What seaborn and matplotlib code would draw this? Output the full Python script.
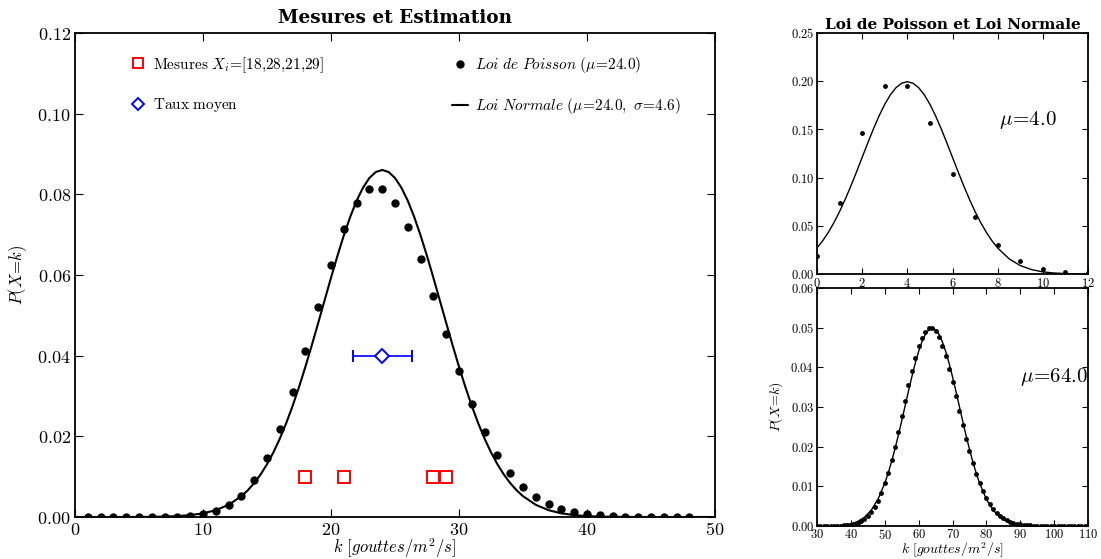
import matplotlib
matplotlib.use("Agg")
import matplotlib.pyplot as plt
from matplotlib.lines import Line2D
from matplotlib.ticker import FuncFormatter
import seaborn as sns

# ---------------- data ----------------
# main panel: Poisson (mu=24) points
k_main = list(range(1, 49))
p_main = [0.0000, 0.0000, 0.0000, 0.0000, 0.0000, 0.0000, 0.0000, 0.0001, 0.0003,
          0.0007, 0.0014, 0.0029, 0.0053, 0.0091, 0.0146, 0.0219, 0.0309, 0.0412,
          0.0520, 0.0624, 0.0713, 0.0778, 0.0812, 0.0812, 0.0779, 0.0719, 0.0639,
          0.0548, 0.0454, 0.0363, 0.0281, 0.0211, 0.0153, 0.0108, 0.0074, 0.0049,
          0.0032, 0.0020, 0.0012, 0.0007, 0.0004, 0.0003, 0.0001, 0.0001, 0.0000,
          0.0000, 0.0000, 0.0000]
# main panel: normal curve (mu=24, sigma=4.6)
x_norm_main = [0, 1, 2, 3, 4, 5, 6, 7, 8, 9, 10, 11, 12, 13,
               13.5, 14, 14.5, 15, 15.5, 16, 16.5, 17, 17.5, 18, 18.5, 19, 19.5,
               20, 20.5, 21, 21.5, 22, 22.5, 23, 23.5, 24, 24.5, 25, 25.5, 26,
               26.5, 27, 27.5, 28, 28.5, 29, 29.5, 30, 30.5, 31, 31.5, 32, 32.5,
               33, 33.5, 34, 34.5,
               35, 36, 37, 38, 39, 40, 41, 42, 43, 44, 45, 46, 47, 48, 49, 50]
y_norm_main = [0.0, 0.0, 0.0, 0.0, 0.0000078, 0.0000194, 0.000046, 0.000104, 0.000223,
               0.000459, 0.000902, 0.00169, 0.00302, 0.00516,
               0.006625, 0.00841, 0.01055, 0.01308, 0.01603, 0.01942, 0.02326,
               0.02753, 0.03221, 0.03725, 0.04258, 0.04811, 0.05372, 0.05931,
               0.06471, 0.06980, 0.07440, 0.07840, 0.08165, 0.08406, 0.08554,
               0.08604, 0.08554, 0.08406, 0.08165, 0.07840, 0.07440, 0.06980,
               0.06471, 0.05931, 0.05372, 0.04811, 0.04258, 0.03725, 0.03221,
               0.02753, 0.02326, 0.01942, 0.01603, 0.01308, 0.01055, 0.00841,
               0.006625,
               0.00516, 0.00302, 0.00169, 0.000902, 0.000459, 0.000223, 0.000104,
               0.000046, 0.0000194, 0.0000078, 0.0, 0.0, 0.0, 0.0, 0.0, 0.0]
# measurements
mesures = [18, 28, 21, 29]
mesures_y = [0.01, 0.01, 0.01, 0.01]
taux_moyen = 24.0
taux_y = 0.04
taux_err = 2.3

# top right: Poisson mu=4 + normal (sigma=2)
k_top = list(range(0, 13))
p_top = [0.0183, 0.0733, 0.1465, 0.1954, 0.1954, 0.1563, 0.1042, 0.0595, 0.0298,
         0.0132, 0.0053, 0.0019, 0.0006]
x_norm_top = [0, 0.25, 0.5, 0.75, 1, 1.25, 1.5, 1.75, 2, 2.25, 2.5, 2.75, 3, 3.25,
              3.5, 3.75, 4, 4.25, 4.5, 4.75, 5, 5.25, 5.5, 5.75, 6, 6.25, 6.5,
              6.75, 7, 7.25, 7.5, 7.75, 8, 8.5, 9, 9.5, 10, 10.5, 11, 11.5, 12]
y_norm_top = [0.02700, 0.03439, 0.04314, 0.05327, 0.06476, 0.07751, 0.09132, 0.10594,
              0.12099, 0.13603, 0.15057, 0.16408, 0.17603, 0.18593, 0.19333, 0.19792,
              0.19947, 0.19792, 0.19333, 0.18593, 0.17603, 0.16408, 0.15057, 0.13603,
              0.12099, 0.10594, 0.09132, 0.07751, 0.06476, 0.05327, 0.04314, 0.03439,
              0.02700, 0.01587, 0.00876, 0.00455, 0.00222, 0.00102, 0.000436,
              0.000176, 0.0000669]

# bottom right: Poisson mu=64 + normal (sigma=8)
k_bot = list(range(30, 111))
p_bot = [0.0000009, 0.0000019, 0.0000038, 0.0000074, 0.0000140, 0.0000255, 0.0000454,
         0.0000785, 0.000132, 0.000217, 0.000347, 0.000542, 0.000826, 0.00123, 0.00179,
         0.00254, 0.00354, 0.00482, 0.00642, 0.00839, 0.01074, 0.01348, 0.01659,
         0.02003, 0.02374, 0.02762, 0.03157, 0.03545, 0.03912, 0.04243, 0.04526,
         0.04749, 0.04902, 0.04980, 0.04980, 0.04904, 0.04755, 0.04542, 0.04275,
         0.03965, 0.03625, 0.03268, 0.02905, 0.02547, 0.02203, 0.01880, 0.01583,
         0.01316, 0.01080, 0.00875, 0.00700, 0.00553, 0.00432, 0.00333, 0.00254,
         0.00191, 0.00142, 0.00105, 0.000763, 0.000549, 0.000390, 0.000274, 0.000191,
         0.000131, 0.0000894, 0.0000602, 0.0000401, 0.0000265, 0.0000173, 0.0000112,
         0.0000072, 0.0, 0.0, 0.0, 0.0, 0.0, 0.0, 0.0, 0.0, 0.0, 0.0]
x_norm_bot = [30, 32, 34, 36, 38, 40, 42, 44, 46, 48,
              50, 51, 52, 53, 54, 55, 56, 57, 58, 59, 60, 61, 62, 63, 64, 65, 66,
              67, 68, 69, 70, 71, 72, 73, 74, 75, 76, 77, 78,
              80, 82, 84, 86, 88, 90, 92, 94, 96, 98, 100, 102, 104, 106, 108, 110]
y_norm_bot = [0.0000060, 0.0000167, 0.0000441, 0.000109, 0.000254, 0.000554, 0.001137,
              0.002191, 0.003967, 0.006749,
              0.01078, 0.01332, 0.01619, 0.01938, 0.02283, 0.02648, 0.03025, 0.03401,
              0.03764, 0.04102, 0.04401, 0.04648, 0.04833, 0.04948, 0.049868, 0.04948,
              0.04833, 0.04648, 0.04401, 0.04102, 0.03764, 0.03401, 0.03025, 0.02648,
              0.02283, 0.01938, 0.01619, 0.01332, 0.01078,
              0.006749, 0.003967, 0.002191, 0.001137, 0.000554, 0.000254, 0.000109,
              0.0000441, 0.0000167, 0.0000060, 0.0, 0.0, 0.0, 0.0, 0.0, 0.0]

main_xticks = [0, 10, 20, 30, 40, 50]
main_yticks = [0.00, 0.02, 0.04, 0.06, 0.08, 0.10, 0.12]
top_xticks = [0, 2, 4, 6, 8, 10, 12]
top_yticks = [0.00, 0.05, 0.10, 0.15, 0.20, 0.25]
bot_xticks = [30, 40, 50, 60, 70, 80, 90, 100, 110]
bot_yticks = [0.00, 0.01, 0.02, 0.03, 0.04, 0.05, 0.06]

# ---------------- style ----------------
sns.set_style("ticks")
plt.rcParams.update({
    "font.family": ["DejaVu Serif"],
    "mathtext.fontset": "cm",
    "xtick.direction": "in",
    "ytick.direction": "in",
    "xtick.top": True,
    "ytick.right": True,
    "axes.linewidth": 1.3,
    "xtick.major.size": 6,
    "ytick.major.size": 6,
    "xtick.color": "black",
    "ytick.color": "black",
    "axes.edgecolor": "black",
    "text.color": "black",
    "axes.labelcolor": "black",
    "axes.titlecolor": "black",
})

W, H = 1101, 559
fig = plt.figure(figsize=(W / 100, H / 100), dpi=100)


def fig_rect(l, t, r, b):
    return [l / W, 1 - b / H, (r - l) / W, (b - t) / H]


def mfmt(fmt):
    return FuncFormatter(lambda v, p: r"$" + (fmt % v) + r"$")


ax = fig.add_axes(fig_rect(75, 33, 715, 517))
ax_t = fig.add_axes(fig_rect(817, 33, 1088, 274))
ax_b = fig.add_axes(fig_rect(817, 288, 1088, 526))

# ---------------- main panel ----------------
sns.lineplot(x=x_norm_main, y=y_norm_main, ax=ax, color="black", linewidth=1.5,
             sort=False, estimator=None)
sns.lineplot(x=k_main, y=p_main, ax=ax, color="black", linestyle="", marker="o",
             markersize=6, markeredgewidth=0, sort=False, estimator=None)
sns.lineplot(x=mesures, y=mesures_y, ax=ax, linestyle="", marker="s", markersize=8,
             markerfacecolor="none", markeredgecolor="red", markeredgewidth=1.4,
             sort=False, estimator=None)
ax.errorbar([taux_moyen], [taux_y], xerr=[taux_err], color="blue", marker="D",
            markersize=7, markerfacecolor="white", markeredgecolor="blue",
            markeredgewidth=1.4, capsize=4, elinewidth=1.2)
ax.set_xlim(0, 50)
ax.set_ylim(0, 0.12)
ax.set_xticks(main_xticks)
ax.set_yticks(main_yticks)
ax.xaxis.set_major_formatter(mfmt("%d"))
ax.yaxis.set_major_formatter(mfmt("%.2f"))
ax.tick_params(labelsize=13, pad=3)
ax.set_title("Mesures et Estimation", fontsize=13.3, fontweight="bold", pad=7)
ax.set_xlabel(r"$k\ [gouttes/m^2/s]$", fontsize=12, labelpad=-2)
ax.set_ylabel(r"$P(X\!=\!k)$", fontsize=12, labelpad=6)

h_mes = Line2D([], [], linestyle="", marker="s", markersize=7, markerfacecolor="none",
               markeredgecolor="red", markeredgewidth=1.4)
h_taux = Line2D([], [], linestyle="", marker="D", markersize=6, markerfacecolor="none",
                markeredgecolor="blue", markeredgewidth=1.4)
h_poi = Line2D([], [], linestyle="", marker="o", markersize=5, color="black")
h_nor = Line2D([], [], color="black", linewidth=1.5)

leg1 = ax.legend([h_mes, h_taux],
                 [r"$\mathrm{Mesures}\ X_i\!=\![18{,}28{,}21{,}29]$", r"$\mathrm{Taux\ moyen}$"],
                 loc="upper left", bbox_to_anchor=(0.065, 0.983), frameon=False,
                 fontsize=11, labelspacing=1.4, handlelength=1.0, handletextpad=0.5)
ax.add_artist(leg1)
ax.legend([h_poi, h_nor],
          [r"$Loi\ de\ Poisson\ (\mu\!=\!24.0)$",
           r"$Loi\ Normale\ (\mu\!=\!24.0,\ \sigma\!=\!4.6)$"],
          loc="upper left", bbox_to_anchor=(0.568, 0.983), frameon=False,
          fontsize=11, labelspacing=1.4, handlelength=1.0, handletextpad=0.5)

# ---------------- top right ----------------
sns.lineplot(x=x_norm_top, y=y_norm_top, ax=ax_t, color="black", linewidth=1.0,
             sort=False, estimator=None)
sns.lineplot(x=k_top, y=p_top, ax=ax_t, color="black", linestyle="", marker="o",
             markersize=3.5, markeredgewidth=0, sort=False, estimator=None)
ax_t.set_xlim(0, 12)
ax_t.set_ylim(0, 0.25)
ax_t.set_xticks(top_xticks)
ax_t.set_yticks(top_yticks)
ax_t.xaxis.set_major_formatter(mfmt("%d"))
ax_t.yaxis.set_major_formatter(mfmt("%.2f"))
ax_t.tick_params(labelsize=9, pad=2, length=4)
ax_t.set_title("Loi de Poisson et Loi Normale", fontsize=11, fontweight="bold", pad=3)
ax_t.text(0.67, 0.64, r"$\mu\!=\!4.0$", transform=ax_t.transAxes, fontsize=15,
          va="center")

# ---------------- bottom right ----------------
sns.lineplot(x=x_norm_bot, y=y_norm_bot, ax=ax_b, color="black", linewidth=1.0,
             sort=False, estimator=None)
sns.lineplot(x=k_bot, y=p_bot, ax=ax_b, color="black", linestyle="", marker="o",
             markersize=3.5, markeredgewidth=0, sort=False, estimator=None)
ax_b.set_xlim(30, 110)
ax_b.set_ylim(0, 0.06)
ax_b.set_xticks(bot_xticks)
ax_b.set_yticks(bot_yticks)
ax_b.xaxis.set_major_formatter(mfmt("%d"))
ax_b.yaxis.set_major_formatter(mfmt("%.2f"))
ax_b.tick_params(labelsize=9, pad=2, length=4)
ax_b.tick_params(axis="x", pad=1.5)
ax_b.set_xlabel(r"$k\ [gouttes/m^2/s]$", fontsize=10, labelpad=-1)
ax_b.set_ylabel(r"$P(X\!=\!k)$", fontsize=10, labelpad=4)
ax_b.text(0.75, 0.628, r"$\mu\!=\!64.0$", transform=ax_b.transAxes, fontsize=15,
          va="center")

for a in (ax, ax_t, ax_b):
    for s in a.spines.values():
        s.set_visible(True)

fig.savefig("out.png", dpi=100, facecolor="white")
